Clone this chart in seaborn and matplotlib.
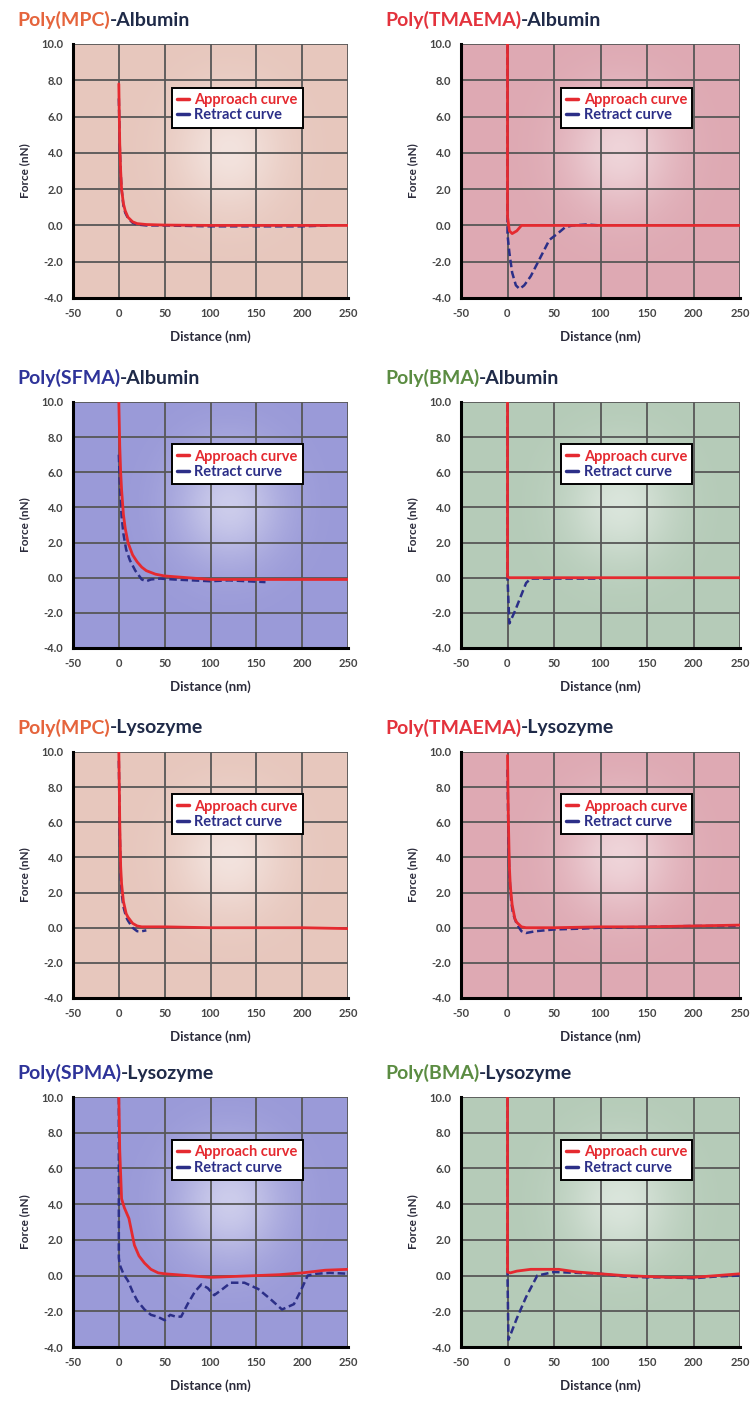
import numpy as np
import pandas as pd
import matplotlib
matplotlib.use('Agg')
import matplotlib.pyplot as plt
from matplotlib.lines import Line2D
from matplotlib.ticker import FormatStrFormatter
import seaborn as sns

# ---- data (distance nm, force nN) ----
mpc_alb_app_x = [0, 0.5, 1, 2, 3, 5, 7, 10, 15, 20, 30, 50, 100, 150, 200, 250]
mpc_alb_app_y = [7.8, 6.0, 4.5, 3.0, 2.0, 1.2, 0.8, 0.45, 0.2, 0.1, 0.05, 0.02, 0.0, 0.0, 0.0, 0.0]
mpc_alb_ret_x = [0, 0.5, 1, 2, 3, 5, 7, 10, 15, 20, 30, 50, 100, 150, 200, 230]
mpc_alb_ret_y = [7.0, 5.8, 4.4, 2.9, 2.0, 1.1, 0.7, 0.4, 0.15, 0.05, 0.0, 0.0, -0.05, -0.05, -0.05, 0.0]

tma_alb_app_x = [0, 0, 2, 5, 10, 15, 50, 100, 150, 200, 250]
tma_alb_app_y = [10.5, 0.5, -0.3, -0.45, -0.3, 0.0, 0.0, 0.0, 0.0, 0.0, 0.0]
tma_alb_ret_x = [0, 0, 2, 5, 9, 13, 18, 25, 32, 40, 45, 50, 55, 62, 70, 85, 100]
tma_alb_ret_y = [10.5, -0.5, -1.5, -2.6, -3.3, -3.5, -3.3, -2.8, -2.1, -1.3, -0.8, -0.6, -0.4, -0.1, 0.0, 0.05, 0.0]

sfma_alb_app_x = [0, 1, 2, 3, 5, 7, 10, 15, 20, 25, 30, 40, 50, 75, 100, 150, 200, 250]
sfma_alb_app_y = [10.0, 7.5, 6.0, 5.0, 3.6, 2.8, 2.0, 1.3, 0.9, 0.6, 0.4, 0.2, 0.1, 0.0, -0.1, -0.1, -0.1, -0.1]
sfma_alb_ret_x = [0, 1, 2, 3, 5, 8, 12, 18, 25, 30, 35, 45, 60, 80, 100, 120, 140, 160]
sfma_alb_ret_y = [7.0, 5.5, 4.5, 3.5, 2.5, 1.6, 1.0, 0.4, -0.1, -0.2, -0.1, -0.05, -0.1, -0.15, -0.2, -0.15, -0.2, -0.25]

bma_alb_app_x = [0, 0, 2, 50, 100, 150, 200, 250]
bma_alb_app_y = [10.5, 0.05, 0.0, 0.0, 0.0, 0.0, 0.0, 0.0]
bma_alb_ret_x = [0, 0, 2, 8, 14, 20, 25, 40, 60, 80, 100]
bma_alb_ret_y = [10.5, 0.0, -2.6, -1.9, -1.1, -0.3, -0.05, -0.05, -0.05, -0.05, -0.05]

mpc_lys_app_x = [0, 1, 2, 3, 5, 8, 10, 15, 20, 25, 50, 100, 150, 200, 250]
mpc_lys_app_y = [10.0, 6.0, 3.5, 2.5, 1.5, 0.8, 0.6, 0.25, 0.1, 0.05, 0.05, 0.0, 0.0, 0.0, -0.05]
mpc_lys_ret_x = [0, 1, 2, 3, 5, 8, 10, 15, 20, 25, 30]
mpc_lys_ret_y = [9.5, 5.5, 3.0, 2.0, 1.2, 0.6, 0.4, 0.0, -0.2, -0.2, -0.15]

tma_lys_app_x = [0, 1, 2, 3, 5, 8, 10, 15, 20, 50, 100, 150, 200, 250]
tma_lys_app_y = [9.8, 6.0, 3.5, 2.4, 1.3, 0.5, 0.3, 0.05, 0.0, 0.0, 0.05, 0.05, 0.1, 0.15]
tma_lys_ret_x = [0, 1, 2, 4, 6, 10, 15, 20, 30, 50, 80, 100, 150, 200, 250]
tma_lys_ret_y = [9.0, 5.0, 3.0, 1.5, 0.8, 0.2, -0.2, -0.3, -0.2, -0.1, -0.05, 0.0, 0.05, 0.1, 0.1]

spma_lys_app_x = [0, 1, 3, 6, 11, 17, 22, 28, 35, 43, 50, 75, 100, 125, 150, 175, 200, 225, 250]
spma_lys_app_y = [10.0, 7.0, 4.3, 3.8, 3.2, 1.7, 1.1, 0.7, 0.35, 0.15, 0.1, 0.0, -0.1, -0.05, 0.0, 0.05, 0.15, 0.3, 0.35]
spma_lys_ret_x = [0, 0, 1, 5, 10, 15, 20, 28, 35, 42, 50, 56, 62, 68, 75, 83, 90, 97, 104, 112,
                  122, 137, 152, 165, 178, 191, 198, 206, 215, 230, 252]
spma_lys_ret_y = [10.0, 1.0, 0.6, 0.1, -0.3, -0.9, -1.4, -1.9, -2.2, -2.3, -2.5, -2.2, -2.3, -2.3, -1.6, -0.9,
                  -0.5, -0.7, -1.1, -0.8, -0.4, -0.4, -0.75, -1.3, -1.9, -1.6, -0.9, 0.0, 0.1, 0.15, 0.1]

bma_lys_app_x = [0, 0, 3, 10, 25, 40, 55, 75, 100, 125, 150, 175, 200, 225, 250]
bma_lys_app_y = [10.5, 0.2, 0.15, 0.25, 0.35, 0.35, 0.35, 0.2, 0.1, 0.0, -0.05, -0.1, -0.1, 0.0, 0.1]
bma_lys_ret_x = [0, 0, 1, 10, 20, 32, 50, 75, 100, 125, 150, 175, 200, 225, 250]
bma_lys_ret_y = [10.5, 0.0, -3.6, -2.4, -1.2, 0.0, 0.2, 0.15, 0.1, -0.05, -0.1, -0.1, -0.15, -0.05, 0.0]

x_ticks = [-50, 0, 50, 100, 150, 200, 250]
y_ticks = [-4, -2, 0, 2, 4, 6, 8, 10]

RED = '#e52a30'
NAVY = '#2c2f88'
TITLE_DARK = '#1f2a48'
BG = {'MPC': '#e7c7bd', 'TMAEMA': '#dea9b3', 'SFMA': '#9a9ad8', 'SPMA': '#9a9ad8', 'BMA': '#b5cbb8'}
TCOL = {'MPC': '#e5643c', 'TMAEMA': '#e3323c', 'SFMA': '#2e3399', 'SPMA': '#2e3399', 'BMA': '#5b8c42'}

sns.set_style('white')
plt.rcParams['font.family'] = ['Lato', 'DejaVu Sans']
plt.rcParams['font.weight'] = 'bold'
plt.rcParams['axes.unicode_minus'] = False

W, H = 753, 1405
fig = plt.figure(figsize=(W / 100, H / 100), dpi=100)
fig.patch.set_facecolor('white')


def glare(ax):
    # bright reflection spot from the photographed print
    yy, xx = np.mgrid[0:1:120j, 0:1:120j]
    r2 = ((xx - 0.57) / 0.9) ** 2 + ((yy - 0.42) / 1.1) ** 2
    img = np.ones((120, 120, 4))
    img[..., 3] = 0.5 * np.exp(-r2 / (2 * 0.15 ** 2))
    ax.imshow(img, extent=(0, 1, 0, 1), transform=ax.transAxes, aspect='auto',
              zorder=0.2, interpolation='bilinear')


def panel(px_left, px_top, px_w, px_h, poly, protein, ax_x, ax_y, rx, ry, title_left):
    rect = [px_left / W, 1 - (px_top + px_h) / H, px_w / W, px_h / H]
    ax = fig.add_axes(rect)
    ax.set_facecolor(BG[poly])
    glare(ax)
    app = pd.DataFrame({'x': ax_x, 'y': ax_y})
    ret = pd.DataFrame({'x': rx, 'y': ry})
    sns.lineplot(data=ret, x='x', y='y', sort=False, estimator=None, color=NAVY,
                 lw=1.8, linestyle=(0, (3, 1.5)), ax=ax, zorder=2)
    sns.lineplot(data=app, x='x', y='y', sort=False, estimator=None, color=RED,
                 lw=2.0, ax=ax, zorder=3)
    ax.set_xlim(-50, 250)
    ax.set_ylim(-4, 10)
    ax.set_xticks(x_ticks)
    ax.set_yticks(y_ticks)
    ax.yaxis.set_major_formatter(FormatStrFormatter('%.1f'))
    ax.grid(True, color='#575757', lw=1.3)
    ax.set_axisbelow(True)
    for s in ['top', 'right']:
        ax.spines[s].set_visible(False)
    for s in ['left', 'bottom']:
        ax.spines[s].set_color('black')
        ax.spines[s].set_linewidth(2.2)
    ax.tick_params(length=0, labelsize=8, labelcolor='#444444', pad=7)
    ax.set_xlabel('Distance (nm)', fontsize=9.5, color='#2a2a3a', fontweight='bold', labelpad=8)
    ax.set_ylabel('Force (nN)', fontsize=8.5, color='#2a2a3a', fontweight='bold', labelpad=8)

    handles = [Line2D([], [], color=RED, lw=2.5), Line2D([], [], color=NAVY, lw=2.5)]
    leg = ax.legend(handles, ['Approach curve', 'Retract curve'], loc='upper left',
                    bbox_to_anchor=(0.333, 0.857), fontsize=10.5, handlelength=0.8,
                    handletextpad=0.4, borderpad=0.35, labelspacing=0.12,
                    fancybox=False, framealpha=1, edgecolor='black')
    leg.get_frame().set_linewidth(1.4)
    for t, c in zip(leg.get_texts(), [RED, NAVY]):
        t.set_color(c)

    # two-colour panel title
    ty = 1 - (px_top - 24) / H
    t1 = fig.text(title_left / W, ty, f'Poly({poly})', color=TCOL[poly], fontsize=14,
                  fontweight='bold', va='center', ha='left')
    ax.annotate(f'-{protein}', xy=(1, 0.5), xycoords=t1, va='center', ha='left',
                color=TITLE_DARK, fontsize=14, fontweight='bold', annotation_clip=False)
    return ax


L_X, L_W = 73, 275
R_X, R_W = 461, 279
rows = [(44, 254), (402, 246), (752, 246), (1097, 250)]

panel(L_X, rows[0][0], L_W, rows[0][1], 'MPC', 'Albumin',
      mpc_alb_app_x, mpc_alb_app_y, mpc_alb_ret_x, mpc_alb_ret_y, 17)
panel(R_X, rows[0][0], R_W, rows[0][1], 'TMAEMA', 'Albumin',
      tma_alb_app_x, tma_alb_app_y, tma_alb_ret_x, tma_alb_ret_y, 385)
panel(L_X, rows[1][0], L_W, rows[1][1], 'SFMA', 'Albumin',
      sfma_alb_app_x, sfma_alb_app_y, sfma_alb_ret_x, sfma_alb_ret_y, 17)
panel(R_X, rows[1][0], R_W, rows[1][1], 'BMA', 'Albumin',
      bma_alb_app_x, bma_alb_app_y, bma_alb_ret_x, bma_alb_ret_y, 385)
panel(L_X, rows[2][0], L_W, rows[2][1], 'MPC', 'Lysozyme',
      mpc_lys_app_x, mpc_lys_app_y, mpc_lys_ret_x, mpc_lys_ret_y, 17)
panel(R_X, rows[2][0], R_W, rows[2][1], 'TMAEMA', 'Lysozyme',
      tma_lys_app_x, tma_lys_app_y, tma_lys_ret_x, tma_lys_ret_y, 385)
panel(L_X, rows[3][0], L_W, rows[3][1], 'SPMA', 'Lysozyme',
      spma_lys_app_x, spma_lys_app_y, spma_lys_ret_x, spma_lys_ret_y, 17)
panel(R_X, rows[3][0], R_W, rows[3][1], 'BMA', 'Lysozyme',
      bma_lys_app_x, bma_lys_app_y, bma_lys_ret_x, bma_lys_ret_y, 385)

fig.savefig('out.png', dpi=100, facecolor='white')
